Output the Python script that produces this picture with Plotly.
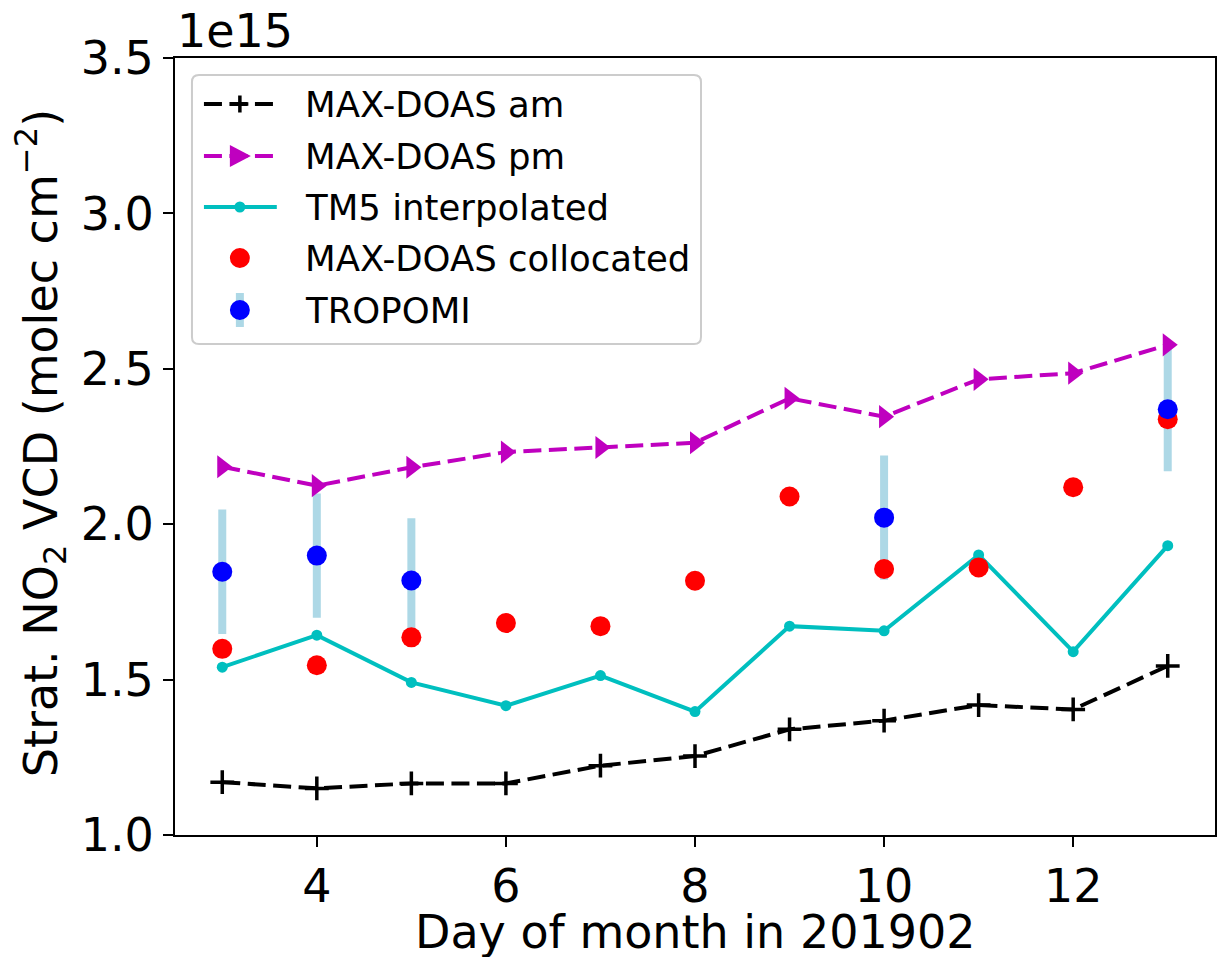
import plotly.graph_objects as go

# Stratospheric NO2 vertical column densities, February 2019 (units of 1e15 molec cm^-2)
days = [3, 4, 5, 6, 7, 8, 9, 10, 11, 12, 13]
maxdoas_am = [1.170, 1.150, 1.166, 1.166, 1.223, 1.254, 1.340, 1.368, 1.418, 1.404, 1.544]
maxdoas_pm = [2.185, 2.124, 2.183, 2.232, 2.247, 2.262, 2.405, 2.346, 2.466, 2.486, 2.577]
tm5_interp = [1.540, 1.643, 1.491, 1.416, 1.513, 1.397, 1.672, 1.657, 1.901, 1.590, 1.931]
maxdoas_colloc = [1.599, 1.546, 1.636, 1.682, 1.672, 1.818, 2.089, 1.856, 1.861, 2.119, 2.338]

tropomi_days = [3, 4, 5, 10, 13]
tropomi_vcd = [1.847, 1.899, 1.819, 2.021, 2.370]
tropomi_err = [0.2, 0.2, 0.2, 0.2, 0.2]

x_ticks = [4, 6, 8, 10, 12]
y_ticks = [1.0, 1.5, 2.0, 2.5, 3.0, 3.5]

FONT = "DejaVu Sans"
FIG_W, FIG_H = 1219, 957
L, R, T, B = 175, 2, 58, 122
PW, PH = FIG_W - L - R, FIG_H - T - B

MAGENTA = "#bf00bf"
CYAN = "#00bfbf"
LIGHTBLUE = "#add8e6"
DASH = "18px,7.5px"

fig = go.Figure()

# TROPOMI uncertainty bars (drawn underneath everything else)
fig.add_trace(go.Scatter(
    x=tropomi_days, y=tropomi_vcd, mode="markers",
    marker=dict(size=1, opacity=0),
    error_y=dict(type="data", array=tropomi_err, color=LIGHTBLUE, thickness=8, width=0),
    showlegend=False, hoverinfo="skip"))

fig.add_trace(go.Scatter(
    x=days, y=maxdoas_am, mode="lines+markers", name="MAX-DOAS am",
    line=dict(color="black", width=4, dash=DASH),
    marker=dict(symbol="cross-thin", size=17, line=dict(color="black", width=3.5))))

fig.add_trace(go.Scatter(
    x=days, y=maxdoas_pm, mode="lines+markers", name="MAX-DOAS pm",
    line=dict(color=MAGENTA, width=4, dash=DASH),
    marker=dict(symbol="triangle-right", size=20, color=MAGENTA)))

fig.add_trace(go.Scatter(
    x=days, y=tm5_interp, mode="lines+markers", name="TM5 interpolated",
    line=dict(color=CYAN, width=4),
    marker=dict(symbol="circle", size=11, color=CYAN)))

fig.add_trace(go.Scatter(
    x=days, y=maxdoas_colloc, mode="markers", name="MAX-DOAS collocated",
    marker=dict(symbol="circle", size=20, color="red")))

fig.add_trace(go.Scatter(
    x=tropomi_days, y=tropomi_vcd, mode="markers", name="TROPOMI",
    marker=dict(symbol="circle", size=20, color="blue")))


def px(x):
    return (x - L) / PW


def py(y):
    return (T + PH - y) / PH


shapes = []
annotations = []

# Legend frame with rounded corners
x0, x1, y0, y1, rad = 192, 702, 75, 344, 7
path = (f"M {px(x0 + rad)},{py(y0)} L {px(x1 - rad)},{py(y0)} "
        f"Q {px(x1)},{py(y0)} {px(x1)},{py(y0 + rad)} "
        f"L {px(x1)},{py(y1 - rad)} Q {px(x1)},{py(y1)} {px(x1 - rad)},{py(y1)} "
        f"L {px(x0 + rad)},{py(y1)} Q {px(x0)},{py(y1)} {px(x0)},{py(y1 - rad)} "
        f"L {px(x0)},{py(y0 + rad)} Q {px(x0)},{py(y0)} {px(x0 + rad)},{py(y0)} Z")
shapes.append(dict(type="path", xref="paper", yref="paper", path=path,
                   fillcolor="rgba(255,255,255,0.8)", line=dict(color="#cccccc", width=2),
                   layer="above"))

rows = [104, 156, 207, 258, 310]
labels = ["MAX-DOAS am", "MAX-DOAS pm", "TM5 interpolated", "MAX-DOAS collocated", "TROPOMI"]
lx0, lx1, mx, tx = 204, 277, 240, 303


def hline(y, color, dash=None):
    d = dict(color=color, width=4)
    if dash:
        d["dash"] = dash
    shapes.append(dict(type="line", xref="paper", yref="paper",
                       x0=px(lx0), x1=px(lx1), y0=py(y), y1=py(y), line=d, layer="above"))


def circle(cx, cy, r, color):
    shapes.append(dict(type="circle", xref="paper", yref="paper",
                       x0=px(cx - r), x1=px(cx + r), y0=py(cy + r), y1=py(cy - r),
                       fillcolor=color, line=dict(width=0), layer="above"))


# MAX-DOAS am
hline(rows[0], "black", DASH)
shapes.append(dict(type="line", xref="paper", yref="paper", x0=px(mx - 8.5), x1=px(mx + 8.5),
                   y0=py(rows[0]), y1=py(rows[0]), line=dict(color="black", width=3.5),
                   layer="above"))
shapes.append(dict(type="line", xref="paper", yref="paper", x0=px(mx), x1=px(mx),
                   y0=py(rows[0] - 8.5), y1=py(rows[0] + 8.5), line=dict(color="black", width=3.5),
                   layer="above"))
# MAX-DOAS pm
hline(rows[1], MAGENTA, DASH)
tri = (f"M {px(mx + 11)},{py(rows[1])} L {px(mx - 10)},{py(rows[1] - 11)} "
       f"L {px(mx - 10)},{py(rows[1] + 11)} Z")
shapes.append(dict(type="path", xref="paper", yref="paper", path=tri,
                   fillcolor=MAGENTA, line=dict(width=0), layer="above"))
# TM5 interpolated
hline(rows[2], CYAN)
circle(mx, rows[2], 5.5, CYAN)
# MAX-DOAS collocated
circle(mx, rows[3], 10, "red")
# TROPOMI
shapes.append(dict(type="line", xref="paper", yref="paper", x0=px(mx), x1=px(mx),
                   y0=py(rows[4] - 17), y1=py(rows[4] + 17),
                   line=dict(color=LIGHTBLUE, width=8), layer="above"))
circle(mx, rows[4], 10, "blue")

for yy, lab in zip(rows, labels):
    annotations.append(dict(text=lab, xref="paper", yref="paper", x=px(tx), y=py(yy),
                            xanchor="left", yanchor="middle", showarrow=False,
                            font=dict(family=FONT, size=35.5, color="black")))

# Axis titles and offset text
annotations.append(dict(text="Day of month in 201902", xref="paper", yref="paper",
                        x=0.5, y=py(932), xanchor="center", yanchor="middle", showarrow=False,
                        font=dict(family=FONT, size=46, color="black")))
annotations.append(dict(text="Strat. NO<sub>2</sub> VCD (molec cm<sup>−2</sup>)",
                        xref="paper", yref="paper", x=px(40), y=py(443), textangle=-90,
                        xanchor="center", yanchor="middle", showarrow=False,
                        font=dict(family=FONT, size=46, color="black")))
annotations.append(dict(text="1e15", xref="paper", yref="paper", x=px(175), y=py(31),
                        xanchor="left", yanchor="middle", showarrow=False,
                        font=dict(family=FONT, size=46, color="black")))

fig.update_layout(
    width=FIG_W, height=FIG_H,
    margin=dict(l=L, r=R, t=T, b=B, pad=0),
    paper_bgcolor="white", plot_bgcolor="white",
    showlegend=False,
    font=dict(family=FONT, size=46, color="black"),
    shapes=shapes, annotations=annotations,
)
fig.update_xaxes(range=[2.5, 13.5], tickvals=x_ticks, ticks="outside", ticklen=10,
                 tickwidth=2, tickcolor="black", showline=True, linewidth=2, linecolor="black",
                 mirror=True, showgrid=False, zeroline=False,
                 tickfont=dict(family=FONT, size=46))
fig.update_yaxes(range=[1.0, 3.5], tickvals=y_ticks, tickformat=".1f", ticks="outside",
                 ticklen=10, tickwidth=2, tickcolor="black", showline=True, linewidth=2,
                 linecolor="black", mirror=True, showgrid=False, zeroline=False,
                 tickfont=dict(family=FONT, size=46))

fig.write_html("out.html")
